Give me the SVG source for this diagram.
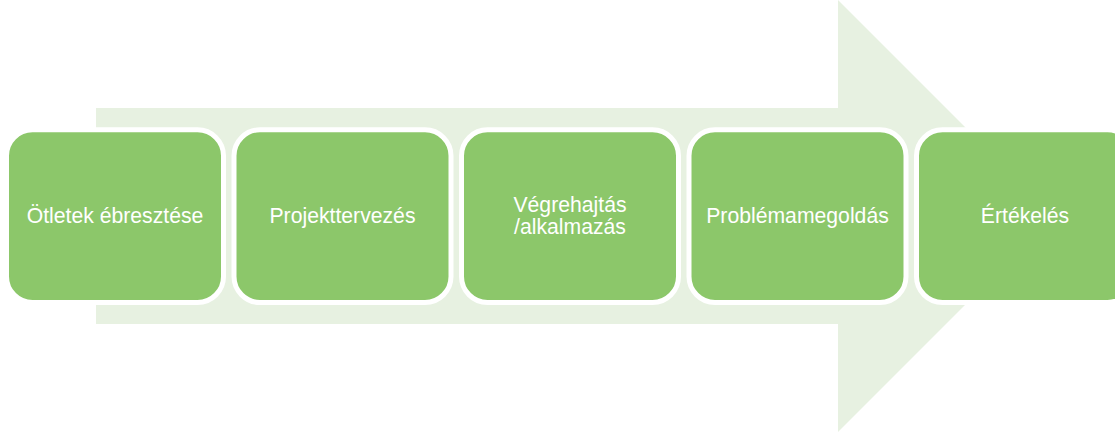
<svg xmlns="http://www.w3.org/2000/svg" width="1115" height="432" viewBox="0 0 1115 432">
<style>
.box{fill:#8CC76A;stroke:#FFFFFF;stroke-width:5}
.lbl{font-family:"Liberation Sans",Arial,sans-serif;font-size:21.2px;fill:#FFFFFF;text-anchor:middle}
</style>
<rect width="1115" height="432" fill="#FFFFFF"/>
<g id="arrow">
<polygon points="96,108 838,108 838,0 1054,216 838,432 838,324 96,324" fill="#E7F1E1"/>
</g>
<g id="connectors"></g>
<g id="node1">
<rect class="box" x="6.5" y="129.8" width="217" height="172.7" rx="26" ry="26"/>
<text class="lbl" x="115" y="222.5">Ötletek ébresztése</text>
</g>
<g id="node2">
<rect class="box" x="234" y="129.8" width="217" height="172.7" rx="26" ry="26"/>
<text class="lbl" x="342.5" y="222.5">Projekttervezés</text>
</g>
<g id="node3">
<rect class="box" x="461.5" y="129.8" width="217" height="172.7" rx="26" ry="26"/>
<text class="lbl" x="570" y="211.5">Végrehajtás</text>
<text class="lbl" x="570" y="234">/alkalmazás</text>
</g>
<g id="node4">
<rect class="box" x="689" y="129.8" width="217" height="172.7" rx="26" ry="26"/>
<text class="lbl" x="797.5" y="222.5">Problémamegoldás</text>
</g>
<g id="node5">
<rect class="box" x="916.5" y="129.8" width="217" height="172.7" rx="26" ry="26"/>
<text class="lbl" x="1025" y="222.5">Értékelés</text>
</g>
</svg>
